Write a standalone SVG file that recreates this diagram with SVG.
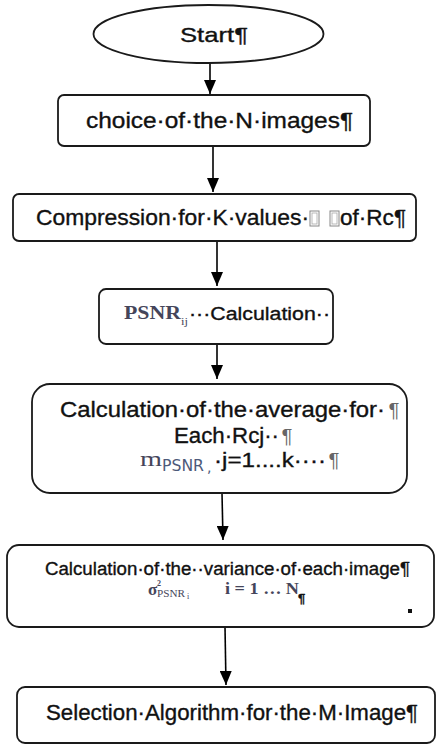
<svg xmlns="http://www.w3.org/2000/svg" width="436" height="744" viewBox="0 0 436 744">
<defs>
<marker id="ah" viewBox="0 0 14 12" refX="14" refY="6" markerWidth="14" markerHeight="12" markerUnits="userSpaceOnUse" orient="auto">
<path d="M0,0 L14,6 L0,12 Z" fill="#000"/>
</marker>
</defs>
<style>
.box{fill:#fff;stroke:#1a1a1a;stroke-width:1.8}
.t{font-family:"Liberation Sans",Arial,sans-serif;fill:#111;stroke:#111;stroke-width:0.35}
.s{font-family:"Liberation Serif","Times New Roman",serif;fill:#45455a}
.pil{font-style:italic;fill:#666;stroke:none}
.conn line{stroke:#000;stroke-width:1.6}
</style>
<rect width="436" height="744" fill="#fff"/>
<g class="conn">
<line x1="210" y1="63" x2="210" y2="94" marker-end="url(#ah)"/>
<line x1="213" y1="146" x2="213" y2="192" marker-end="url(#ah)"/>
<line x1="217" y1="241" x2="217" y2="286" marker-end="url(#ah)"/>
<line x1="217" y1="344" x2="217" y2="379" marker-end="url(#ah)"/>
<line x1="222" y1="493" x2="223" y2="540" marker-end="url(#ah)"/>
<line x1="225" y1="627" x2="226" y2="685" marker-end="url(#ah)"/>
</g>
<g id="start">
<ellipse cx="208.5" cy="34" rx="115" ry="29" class="box"/>
<text class="t" x="180" y="42" font-size="21" textLength="68" lengthAdjust="spacingAndGlyphs">Start¶</text>
</g>
<g id="choice">
<rect x="58" y="95" width="312" height="51" rx="6" class="box"/>
<text class="t" x="86" y="128" font-size="22" textLength="267" lengthAdjust="spacingAndGlyphs">choice·of·the·N·images¶</text>
</g>
<g id="compression">
<rect x="13" y="194" width="403" height="47" rx="6" class="box"/>
<text class="t" x="36" y="225" font-size="22" textLength="273" lengthAdjust="spacingAndGlyphs">Compression·for·K·values·</text>
<rect x="310" y="211" width="9" height="15" fill="none" stroke="#888" stroke-width="1"/>
<rect x="312" y="213" width="5" height="11" fill="none" stroke="#aaa" stroke-width="0.8"/>
<rect x="330" y="211" width="9" height="15" fill="none" stroke="#888" stroke-width="1"/>
<rect x="332" y="213" width="5" height="11" fill="none" stroke="#aaa" stroke-width="0.8"/>
<text class="t" x="340" y="225" font-size="22" textLength="66" lengthAdjust="spacingAndGlyphs">of·Rc¶</text>
</g>
<g id="psnr">
<rect x="99" y="289" width="234" height="55" rx="7" class="box"/>
<text class="s" x="124" y="319" font-size="19" font-weight="bold" textLength="57" lengthAdjust="spacingAndGlyphs">PSNR</text>
<text class="s" x="181" y="325" font-size="10" textLength="7" lengthAdjust="spacingAndGlyphs">ij</text>
<text class="t" x="189" y="320" font-size="18" textLength="141" lengthAdjust="spacingAndGlyphs">···Calculation··</text>
</g>
<g id="average">
<rect x="32" y="384" width="375" height="109" rx="18" class="box"/>
<text class="t" x="60" y="417" font-size="22" textLength="325" lengthAdjust="spacingAndGlyphs">Calculation·of·the·average·for·</text>
<text class="t pil" x="388" y="417" font-size="20">¶</text>
<text class="t" x="174" y="443" font-size="22" textLength="105" lengthAdjust="spacingAndGlyphs">Each·Rcj··</text>
<text class="t pil" x="281" y="443" font-size="20">¶</text>
<text class="s" x="140" y="466" font-size="22" textLength="22" lengthAdjust="spacingAndGlyphs">m</text>
<text x="162" y="471" font-size="15" font-family="DejaVu Sans,sans-serif" fill="#4d5a7a" textLength="42" lengthAdjust="spacingAndGlyphs">PSNR</text>
<text x="207" y="472" font-size="14" font-family="DejaVu Sans,sans-serif" fill="#4d5a7a">,</text>
<text class="t" x="214" y="467" font-size="21" textLength="112" lengthAdjust="spacingAndGlyphs">·j=1....k····</text>
<text class="t pil" x="328" y="467" font-size="20">¶</text>
</g>
<g id="variance">
<rect x="7" y="545" width="427" height="82" rx="12" class="box"/>
<text class="t" x="45" y="575" font-size="18" textLength="365" lengthAdjust="spacingAndGlyphs">Calculation·of·the··variance·of·each·image¶</text>
<text class="s" x="148" y="595" font-size="17" font-weight="bold">σ</text>
<text class="s" x="157" y="586" font-size="8" font-weight="bold">2</text>
<text class="s" x="157" y="597" font-size="11" textLength="28" lengthAdjust="spacingAndGlyphs">PSNR</text>
<text class="s" x="187" y="599" font-size="8">i</text>
<text class="s" x="225" y="594" font-size="17" font-weight="bold" textLength="74" lengthAdjust="spacingAndGlyphs">i = 1 … N</text>
<text class="t" x="298" y="603" font-size="13" font-weight="bold">¶</text>
<rect x="408" y="609" width="4" height="4" fill="#111"/>
</g>
<g id="selection">
<rect x="17" y="687" width="418" height="56" rx="8" class="box"/>
<text class="t" x="46" y="720" font-size="22" textLength="372" lengthAdjust="spacingAndGlyphs">Selection·Algorithm·for·the·M·Image¶</text>
</g>
</svg>
